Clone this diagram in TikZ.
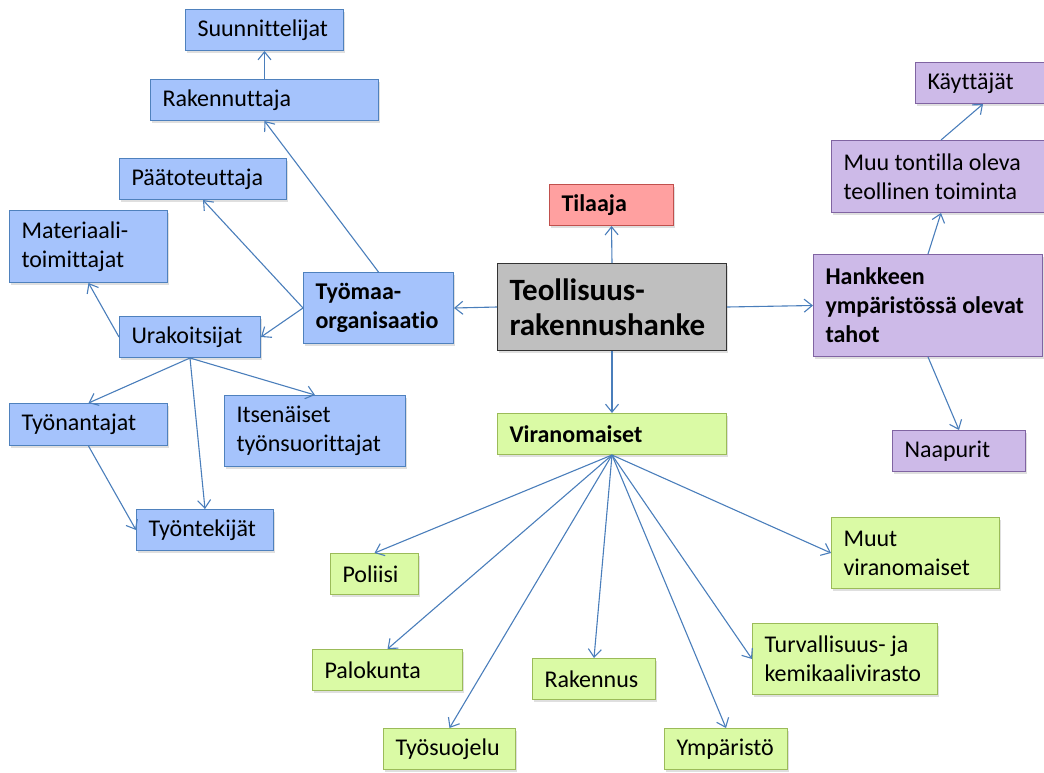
\documentclass[tikz,border=0pt]{standalone}
\usepackage{fontspec}
\setmainfont{Carlito}[Ligatures=NoCommon]
\usetikzlibrary{arrows.meta, positioning, shadows}

\definecolor{linkblue}{RGB}{74,126,187}
\definecolor{bluefill}{RGB}{165,195,252}
\definecolor{blueline}{RGB}{79,129,189}
\definecolor{greenfill}{RGB}{218,250,165}
\definecolor{greenline}{RGB}{155,187,89}
\definecolor{purplefill}{RGB}{205,186,232}
\definecolor{purpleline}{RGB}{128,100,162}
\definecolor{redfill}{RGB}{255,160,160}
\definecolor{redline}{RGB}{192,80,77}
\definecolor{grayfill}{RGB}{191,191,191}

\tikzset{
    box/.style={draw, rectangle, anchor=north west, align=flush left, inner xsep=12pt, inner ysep=0pt,
        line width=1pt, font=\fontsize{24}{29}\selectfont,
        drop shadow={opacity=0.25, shadow xshift=1.5pt, shadow yshift=-2pt}},
    bluebox/.style={box, fill=bluefill, draw=blueline},
    greenbox/.style={box, fill=greenfill, draw=greenline},
    purplebox/.style={box, fill=purplefill, draw=purpleline},
    redbox/.style={box, fill=redfill, draw=redline},
    link/.style={draw=linkblue, line width=1.1pt, -{Straight Barb[length=8pt, width=13pt]}}
}

\begin{document}
\begin{tikzpicture}[x=1pt, y=-1pt]
    \clip (0,0) rectangle (1044,772);

    % Centre
    \node[box, fill=grayfill, draw=black!80, text width=205pt, minimum height=87pt,
        font=\fontsize{31}{35}\selectfont\bfseries] (hanke) at (497,263) {Teollisuus-\\rakennushanke};
    \node[redbox, text width=100pt, minimum height=41pt, font=\fontsize{24}{29}\selectfont\bfseries] (tilaaja) at (549,184) {Tilaaja};

    % Tyomaaorganisaatio branch
    \node[bluebox, text width=126pt, minimum height=71pt, font=\fontsize{24}{29}\selectfont\bfseries] (tyomaa) at (303,272) {Työmaa-\\organisaatio};
    \node[bluebox, text width=134pt, minimum height=41pt] (suunnittelijat) at (185,9) {Suunnittelijat};
    \node[bluebox, text width=204pt, minimum height=41pt] (rakennuttaja) at (150,79) {Rakennuttaja};
    \node[bluebox, text width=143pt, minimum height=41pt] (paatoteuttaja) at (119,158) {Päätoteuttaja};
    \node[bluebox, text width=134pt, minimum height=72pt] (materiaali) at (9,210) {Materiaali-\\toimittajat};
    \node[bluebox, text width=117pt, minimum height=41pt] (urakoitsijat) at (119,316) {Urakoitsijat};
    \node[bluebox, text width=134pt, minimum height=42pt] (tyonantajat) at (9,403) {Työnantajat};
    \node[bluebox, text width=157pt, minimum height=71pt] (itsenaiset) at (224,395) {Itsenäiset\\työnsuorittajat};
    \node[bluebox, text width=113pt, minimum height=41pt] (tyontekijat) at (136,509) {Työntekijät};

    % Ymparisto branch
    \node[purplebox, text width=205pt, minimum height=102pt, font=\fontsize{24}{29}\selectfont\bfseries] (hankkeen) at (813,254) {Hankkeen\\ympäristössä olevat\\tahot};
    \node[purplebox, text width=195pt, minimum height=72pt] (muu) at (831,140) {Muu tontilla oleva\\teollinen toiminta};
    \node[purplebox, text width=111pt, minimum height=41pt] (kayttajat) at (915,62) {Käyttäjät};
    \node[purplebox, text width=109pt, minimum height=41pt] (naapurit) at (892,430) {Naapurit};

    % Viranomaiset branch
    \node[greenbox, text width=205pt, minimum height=41pt, font=\fontsize{24}{29}\selectfont\bfseries] (viranomaiset) at (497,413) {Viranomaiset};
    \node[greenbox, text width=64pt, minimum height=41pt] (poliisi) at (330,553) {Poliisi};
    \node[greenbox, text width=126pt, minimum height=41pt] (palokunta) at (312,649) {Palokunta};
    \node[greenbox, text width=108pt, minimum height=41pt] (tyosuojelu) at (383,728) {Työsuojelu};
    \node[greenbox, text width=99pt, minimum height=41pt] (rakennus) at (532,658) {Rakennus};
    \node[greenbox, text width=99pt, minimum height=41pt] (ymparisto) at (664,728) {Ympäristö};
    \node[greenbox, text width=161pt, minimum height=71pt] (turvallisuus) at (752,623) {Turvallisuus- ja\\kemikaalivirasto};
    \node[greenbox, text width=144pt, minimum height=71pt] (muut) at (831,517) {Muut\\viranomaiset};

    % Connectors
    \draw[link] (hanke.north) -- (tilaaja.south);
    \draw[link] (hanke.west) -- (tyomaa.east);
    \draw[link] (hanke.east) -- (hankkeen.west);
    \draw[link] (hanke.south) -- (viranomaiset.north);

    \draw[link] (rakennuttaja.north) -- (suunnittelijat.south);
    \draw[link] (tyomaa.north) -- (rakennuttaja.south);
    \draw[link] (tyomaa.west) -- (paatoteuttaja.south);
    \draw[link] (tyomaa.west) -- (urakoitsijat.east);
    \draw[link] (urakoitsijat.west) -- (materiaali.south);
    \draw[link] (urakoitsijat.south) -- (tyonantajat.north);
    \draw[link] (urakoitsijat.south) -- (itsenaiset.north);
    \draw[link] (urakoitsijat.south) -- (tyontekijat.north);
    \draw[link] (tyonantajat.south) -- (tyontekijat.west);

    \draw[link] (hankkeen.north) -- (muu.south);
    \draw[link] (muu.north) -- (kayttajat.south);
    \draw[link] (hankkeen.south) -- (naapurit.north);

    \foreach \t/\a in {poliisi/north, palokunta/north, tyosuojelu/north, rakennus/north,
        ymparisto/north, turvallisuus/west, muut/west}
        \draw[link] (viranomaiset.south) -- (\t.\a);
\end{tikzpicture}
\end{document}
